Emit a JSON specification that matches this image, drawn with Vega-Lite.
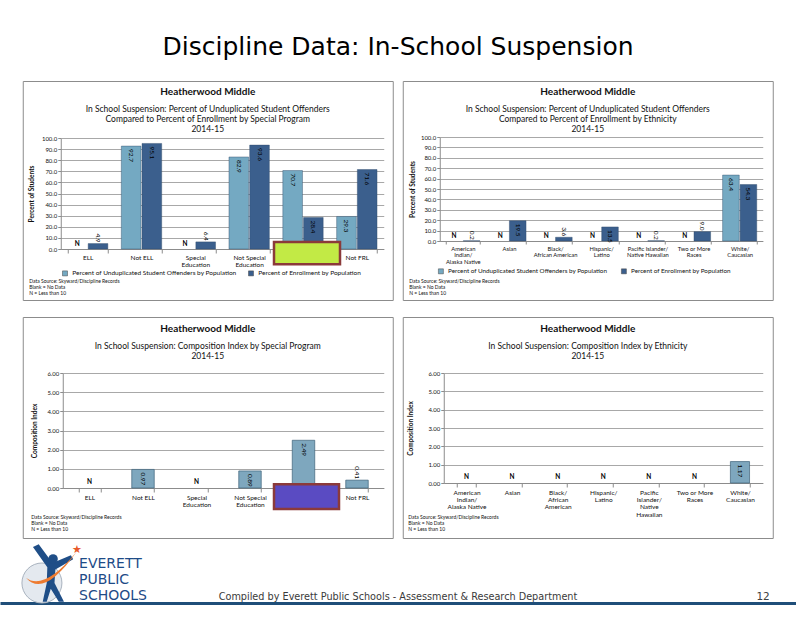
{
  "$schema": "https://vega.github.io/schema/vega-lite/v6.json",
  "background": "white",
  "padding": {"left": 0, "right": 0, "top": 35, "bottom": 8},
  "title": {"text": "Discipline Data: In-School Suspension", "font": "DejaVu Sans", "fontSize": 25, "fontWeight": "normal", "color": "#000000", "anchor": "middle", "frame": "bounds", "offset": 20.5},
  "config": {
    "font": "Lato",
    "view": {"stroke": "#8C8C8C", "strokeWidth": 1},
    "axis": {"labelFont": "Lato", "titleFont": "Lato", "labelColor": "#111111", "titleColor": "#111111", "domainColor": "#8C8C8C", "tickColor": "#8C8C8C", "gridColor": "#A8A8A8", "gridWidth": 1, "labelFontSize": 6, "labelOverlap": false},
    "legend": {"labelFont": "Lato", "labelColor": "#111111"},
    "title": {"font": "Lato", "fontSize": 10, "fontWeight": "bold", "color": "#111111", "subtitleFont": "Lato", "subtitleFontSize": 8.5, "subtitleColor": "#111111", "subtitleLineHeight": 10.3, "subtitlePadding": 8, "frame": "group", "anchor": "middle"}
  },
  "datasets": {
    "p1": [
      {"cat": "ELL", "series": "Percent of Unduplicated Student Offenders by Population", "value": null},
      {"cat": "ELL", "series": "Percent of Enrollment by Population", "value": 4.9},
      {"cat": "Not ELL", "series": "Percent of Unduplicated Student Offenders by Population", "value": 92.7},
      {"cat": "Not ELL", "series": "Percent of Enrollment by Population", "value": 95.1},
      {"cat": "Special Education", "series": "Percent of Unduplicated Student Offenders by Population", "value": null},
      {"cat": "Special Education", "series": "Percent of Enrollment by Population", "value": 6.4},
      {"cat": "Not Special Education", "series": "Percent of Unduplicated Student Offenders by Population", "value": 82.9},
      {"cat": "Not Special Education", "series": "Percent of Enrollment by Population", "value": 93.6},
      {"cat": "FRL", "series": "Percent of Unduplicated Student Offenders by Population", "value": 70.7},
      {"cat": "FRL", "series": "Percent of Enrollment by Population", "value": 28.4},
      {"cat": "Not FRL", "series": "Percent of Unduplicated Student Offenders by Population", "value": 29.3},
      {"cat": "Not FRL", "series": "Percent of Enrollment by Population", "value": 71.6}
    ],
    "p2": [
      {"cat": "American Indian/Alaska Native", "series": "Percent of Unduplicated Student Offenders by Population", "value": null},
      {"cat": "American Indian/Alaska Native", "series": "Percent of Enrollment by Population", "value": 0.2},
      {"cat": "Asian", "series": "Percent of Unduplicated Student Offenders by Population", "value": null},
      {"cat": "Asian", "series": "Percent of Enrollment by Population", "value": 19.5},
      {"cat": "Black/African American", "series": "Percent of Unduplicated Student Offenders by Population", "value": null},
      {"cat": "Black/African American", "series": "Percent of Enrollment by Population", "value": 3.6},
      {"cat": "Hispanic/Latino", "series": "Percent of Unduplicated Student Offenders by Population", "value": null},
      {"cat": "Hispanic/Latino", "series": "Percent of Enrollment by Population", "value": 13.5},
      {"cat": "Pacific Islander/Native Hawaiian", "series": "Percent of Unduplicated Student Offenders by Population", "value": null},
      {"cat": "Pacific Islander/Native Hawaiian", "series": "Percent of Enrollment by Population", "value": 0.2},
      {"cat": "Two or More Races", "series": "Percent of Unduplicated Student Offenders by Population", "value": null},
      {"cat": "Two or More Races", "series": "Percent of Enrollment by Population", "value": 9.0},
      {"cat": "White/Caucasian", "series": "Percent of Unduplicated Student Offenders by Population", "value": 63.4},
      {"cat": "White/Caucasian", "series": "Percent of Enrollment by Population", "value": 54.3}
    ],
    "p3": [
      {"cat": "ELL", "value": null},
      {"cat": "Not ELL", "value": 0.97},
      {"cat": "Special Education", "value": null},
      {"cat": "Not Special Education", "value": 0.89},
      {"cat": "FRL", "value": 2.49},
      {"cat": "Not FRL", "value": 0.41}
    ],
    "p4": [
      {"cat": "American Indian/Alaska Native", "value": null},
      {"cat": "Asian", "value": null},
      {"cat": "Black/African American", "value": null},
      {"cat": "Hispanic/Latino", "value": null},
      {"cat": "Pacific Islander/Native Hawaiian", "value": null},
      {"cat": "Two or More Races", "value": null},
      {"cat": "White/Caucasian", "value": 1.17}
    ],
    "footer": [
      {"part": "logo", "line": "1", "text": ["EVERETT", "PUBLIC", "SCHOOLS"]},
      {"part": "credit", "line": "3", "text": "Compiled by Everett Public Schools - Assessment & Research Department"},
      {"part": "page", "line": "3", "text": "12"}
    ]
  },
  "center": true,
  "spacing": 4,
  "vconcat": [
    {
      "columns": 2,
      "bounds": "flush",
      "spacing": {"row": 17, "column": 10},
      "resolve": {"scale": {"color": "independent", "x": "independent", "y": "independent", "xOffset": "independent"}, "legend": {"color": "independent"}},
      "concat": [
        {
          "width": 370, "height": 219,
          "data": {"name": "p1"},
          "title": {"text": "Heatherwood Middle", "subtitle": ["In School Suspension: Percent of Unduplicated Student Offenders", "Compared to Percent of Enrollment by Special Program", "2014-15"], "offset": -53},
          "layer": [
            {
              "mark": {"type": "bar", "stroke": "#2F4B6A", "strokeWidth": 0.6, "strokeOpacity": 0.7},
              "encoding": {
                "x": {"field": "cat", "type": "nominal", "scale": {"domain": ["ELL", "Not ELL", "Special Education", "Not Special Education", "FRL", "Not FRL"], "range": [38, 361], "paddingInner": 0.25, "paddingOuter": 0.125},
                  "axis": {"offset": -51, "labelAngle": 0, "labelFontSize": 6.5, "labelPadding": 1, "tickSize": 4, "tickBand": "extent", "labelLineHeight": 7.4, "labelBaseline": "top",
                    "labelExpr": "datum.label == 'Special Education' ? ['Special','Education'] : datum.label == 'Not Special Education' ? ['Not Special','Education'] : datum.label",
                    "title": ["Data Source: Skyward/Discipline Records", "Blank = No Data", "N = Less than 10"], "titleFontSize": 5, "titleFontWeight": "normal", "titleAlign": "left", "titleAnchor": "start", "titleBaseline": "top", "titleX": 6, "titleY": 29, "titleLineHeight": 6}},
                "y": {"field": "value", "type": "quantitative", "scale": {"domain": [0, 100], "range": [168, 57], "nice": false},
                  "axis": {"offset": -38, "values": [0, 10, 20, 30, 40, 50, 60, 70, 80, 90, 100], "tickCount": 11, "labelOverlap": false, "format": ".1f", "tickSize": 3, "labelPadding": 1, "title": "Percent of Students", "titleFontSize": 6.5, "titleFontWeight": "bold", "titlePadding": 7}},
                "xOffset": {"field": "series", "scale": {"domain": ["Percent of Unduplicated Student Offenders by Population", "Percent of Enrollment by Population"], "paddingInner": 0.05}},
                "color": {"field": "series", "type": "nominal", "scale": {"domain": ["Percent of Unduplicated Student Offenders by Population", "Percent of Enrollment by Population"], "range": ["#74A9C2", "#3B5F8D"]},
                  "legend": {"orient": "none", "legendX": 39, "legendY": 189, "direction": "horizontal", "title": null, "symbolType": "square", "symbolSize": 25, "symbolStrokeColor": "#444444", "symbolStrokeWidth": 0.5, "labelFontSize": 6.5, "labelLimit": 400, "columnPadding": 10, "padding": 0}}
              }
            },
            {
              "transform": [{"filter": "datum.value != null && datum.value >= 10"}],
              "mark": {"type": "text", "angle": 90, "align": "left", "baseline": "middle", "dx": 3, "fontSize": 6.5, "color": "#000000"},
              "encoding": {"x": {"field": "cat", "type": "nominal"}, "xOffset": {"field": "series"}, "y": {"field": "value", "type": "quantitative"}, "text": {"field": "value", "type": "quantitative", "format": ".1f"}}
            },
            {
              "transform": [{"filter": "datum.value != null && datum.value < 10"}],
              "mark": {"type": "text", "angle": 90, "align": "right", "baseline": "middle", "dx": -1, "fontSize": 6.5, "color": "#000000"},
              "encoding": {"x": {"field": "cat", "type": "nominal"}, "xOffset": {"field": "series"}, "y": {"field": "value", "type": "quantitative"}, "text": {"field": "value", "type": "quantitative", "format": ".1f"}}
            },
            {
              "transform": [{"filter": "datum.value == null"}],
              "mark": {"type": "text", "baseline": "bottom", "dy": -2, "fontSize": 6.5, "fontWeight": "bold", "color": "#000000"},
              "encoding": {"x": {"field": "cat", "type": "nominal"}, "xOffset": {"field": "series"}, "y": {"datum": 0}, "text": {"value": "N"}}
            },
            {
              "data": {"values": [{"cat": "FRL", "lo": -13.8, "hi": 6.3}]},
              "mark": {"type": "bar", "width": 66, "xOffset": 4, "fill": "#C2EA45", "stroke": "#8B3A3A", "strokeWidth": 2.5},
              "encoding": {"x": {"field": "cat", "type": "nominal"}, "y": {"field": "lo", "type": "quantitative"}, "y2": {"field": "hi"}}
            }
          ]
        },
        {
          "width": 370, "height": 219,
          "data": {"name": "p2"},
          "title": {"text": "Heatherwood Middle", "subtitle": ["In School Suspension: Percent of Unduplicated Student Offenders", "Compared to Percent of Enrollment by Ethnicity", "2014-15"], "offset": -53},
          "layer": [
            {
              "mark": {"type": "bar", "stroke": "#2F4B6A", "strokeWidth": 0.6, "strokeOpacity": 0.7},
              "encoding": {
                "x": {"field": "cat", "type": "nominal", "scale": {"domain": ["American Indian/Alaska Native", "Asian", "Black/African American", "Hispanic/Latino", "Pacific Islander/Native Hawaiian", "Two or More Races", "White/Caucasian"], "range": [37, 360], "paddingInner": 0.26, "paddingOuter": 0.13},
                  "axis": {"offset": -59, "labelAngle": 0, "labelFontSize": 5.8, "labelPadding": 1, "tickSize": 3, "tickBand": "extent", "labelLineHeight": 6.8, "labelBaseline": "top",
                    "labelExpr": "datum.label == 'American Indian/Alaska Native' ? ['American','Indian/','Alaska Native'] : datum.label == 'Black/African American' ? ['Black/','African American'] : datum.label == 'Hispanic/Latino' ? ['Hispanic/','Latino'] : datum.label == 'Pacific Islander/Native Hawaiian' ? ['Pacific Islander/','Native Hawaiian'] : datum.label == 'Two or More Races' ? ['Two or More','Races'] : datum.label == 'White/Caucasian' ? ['White/','Caucasian'] : datum.label",
                    "title": ["Data Source: Skyward/Discipline Records", "Blank = No Data", "N = Less than 10"], "titleFontSize": 5, "titleFontWeight": "normal", "titleAlign": "left", "titleAnchor": "start", "titleBaseline": "top", "titleX": 6, "titleY": 37, "titleLineHeight": 6}},
                "y": {"field": "value", "type": "quantitative", "scale": {"domain": [0, 100], "range": [160, 56], "nice": false},
                  "axis": {"offset": -37, "values": [0, 10, 20, 30, 40, 50, 60, 70, 80, 90, 100], "tickCount": 11, "labelOverlap": false, "format": ".1f", "tickSize": 3, "labelPadding": 1, "title": "Percent of Students", "titleFontSize": 6.5, "titleFontWeight": "bold", "titlePadding": 5}},
                "xOffset": {"field": "series", "scale": {"domain": ["Percent of Unduplicated Student Offenders by Population", "Percent of Enrollment by Population"], "paddingInner": 0.05}},
                "color": {"field": "series", "type": "nominal", "scale": {"domain": ["Percent of Unduplicated Student Offenders by Population", "Percent of Enrollment by Population"], "range": ["#74A9C2", "#3B5F8D"]},
                  "legend": {"orient": "none", "legendX": 35, "legendY": 187, "direction": "horizontal", "title": null, "symbolType": "square", "symbolSize": 25, "symbolStrokeColor": "#444444", "symbolStrokeWidth": 0.5, "labelFontSize": 6.3, "labelLimit": 400, "columnPadding": 12, "padding": 0}}
              }
            },
            {
              "transform": [{"filter": "datum.value != null && datum.value >= 10"}],
              "mark": {"type": "text", "angle": 90, "align": "left", "baseline": "middle", "dx": 3, "fontSize": 6.5, "color": "#000000"},
              "encoding": {"x": {"field": "cat", "type": "nominal"}, "xOffset": {"field": "series"}, "y": {"field": "value", "type": "quantitative"}, "text": {"field": "value", "type": "quantitative", "format": ".1f"}}
            },
            {
              "transform": [{"filter": "datum.value != null && datum.value < 10"}],
              "mark": {"type": "text", "angle": 90, "align": "right", "baseline": "middle", "dx": -1, "fontSize": 6.5, "color": "#000000"},
              "encoding": {"x": {"field": "cat", "type": "nominal"}, "xOffset": {"field": "series"}, "y": {"field": "value", "type": "quantitative"}, "text": {"field": "value", "type": "quantitative", "format": ".1f"}}
            },
            {
              "transform": [{"filter": "datum.value == null"}],
              "mark": {"type": "text", "baseline": "bottom", "dy": -2, "fontSize": 6.5, "fontWeight": "bold", "color": "#000000"},
              "encoding": {"x": {"field": "cat", "type": "nominal"}, "xOffset": {"field": "series"}, "y": {"datum": 0}, "text": {"value": "N"}}
            }
          ]
        },
        {
          "width": 370, "height": 221,
          "data": {"name": "p3"},
          "title": {"text": "Heatherwood Middle", "subtitle": ["In School Suspension: Composition Index by Special Program", "2014-15"], "offset": -44},
          "layer": [
            {
              "mark": {"type": "bar", "color": "#7EA7BE", "stroke": "#3E6178", "strokeWidth": 0.7},
              "encoding": {
                "x": {"field": "cat", "type": "nominal", "scale": {"domain": ["ELL", "Not ELL", "Special Education", "Not Special Education", "FRL", "Not FRL"], "range": [40, 361], "paddingInner": 0.58, "paddingOuter": 0.29},
                  "axis": {"offset": -50, "labelAngle": 0, "labelFontSize": 6.5, "labelPadding": 2, "tickSize": 4, "tickBand": "extent", "labelLineHeight": 7.6, "labelBaseline": "top",
                    "labelExpr": "datum.label == 'Special Education' ? ['Special','Education'] : datum.label == 'Not Special Education' ? ['Not Special','Education'] : datum.label",
                    "title": ["Data Source: Skyward/Discipline Records", "Blank = No Data", "N = Less than 10"], "titleFontSize": 5, "titleFontWeight": "normal", "titleAlign": "left", "titleAnchor": "start", "titleBaseline": "top", "titleX": 8, "titleY": 26, "titleLineHeight": 6}},
                "y": {"field": "value", "type": "quantitative", "scale": {"domain": [0, 6], "range": [171, 56], "nice": false},
                  "axis": {"offset": -40, "values": [0, 1, 2, 3, 4, 5, 6], "tickCount": 7, "labelOverlap": false, "format": ".2f", "tickSize": 3, "labelPadding": 1, "title": "Composition Index", "titleFontSize": 6.5, "titleFontWeight": "bold", "titlePadding": 9}}
              }
            },
            {
              "transform": [{"filter": "datum.value != null && datum.value >= 0.6"}],
              "mark": {"type": "text", "angle": 90, "align": "left", "baseline": "middle", "dx": 3, "fontSize": 6.5, "color": "#000000"},
              "encoding": {"x": {"field": "cat", "type": "nominal"}, "y": {"field": "value", "type": "quantitative"}, "text": {"field": "value", "type": "quantitative", "format": ".2f"}}
            },
            {
              "transform": [{"filter": "datum.value != null && datum.value < 0.6"}],
              "mark": {"type": "text", "angle": 90, "align": "right", "baseline": "middle", "dx": -1, "fontSize": 6.5, "color": "#000000"},
              "encoding": {"x": {"field": "cat", "type": "nominal"}, "y": {"field": "value", "type": "quantitative"}, "text": {"field": "value", "type": "quantitative", "format": ".2f"}}
            },
            {
              "transform": [{"filter": "datum.value == null"}],
              "mark": {"type": "text", "baseline": "bottom", "dy": -3, "fontSize": 6.5, "fontWeight": "bold", "color": "#000000"},
              "encoding": {"x": {"field": "cat", "type": "nominal"}, "y": {"datum": 0}, "text": {"value": "N"}}
            },
            {
              "data": {"values": [{"cat": "FRL", "lo": -1.09, "hi": 0.2}]},
              "mark": {"type": "bar", "width": 65, "xOffset": 3, "fill": "#5A4BC2", "stroke": "#8B3A3A", "strokeWidth": 2.5},
              "encoding": {"x": {"field": "cat", "type": "nominal"}, "y": {"field": "lo", "type": "quantitative"}, "y2": {"field": "hi"}}
            }
          ]
        },
        {
          "width": 370, "height": 221,
          "data": {"name": "p4"},
          "title": {"text": "Heatherwood Middle", "subtitle": ["In School Suspension: Composition Index by Ethnicity", "2014-15"], "offset": -44},
          "layer": [
            {
              "mark": {"type": "bar", "color": "#7EA7BE", "stroke": "#3E6178", "strokeWidth": 0.7},
              "encoding": {
                "x": {"field": "cat", "type": "nominal", "scale": {"domain": ["American Indian/Alaska Native", "Asian", "Black/African American", "Hispanic/Latino", "Pacific Islander/Native Hawaiian", "Two or More Races", "White/Caucasian"], "range": [41, 360], "paddingInner": 0.58, "paddingOuter": 0.29},
                  "axis": {"offset": -55, "labelAngle": 0, "labelFontSize": 6.5, "labelPadding": 2, "tickSize": 4, "tickBand": "extent", "labelLineHeight": 7.4, "labelBaseline": "top",
                    "labelExpr": "datum.label == 'American Indian/Alaska Native' ? ['American','Indian/','Alaska Native'] : datum.label == 'Black/African American' ? ['Black/','African','American'] : datum.label == 'Hispanic/Latino' ? ['Hispanic/','Latino'] : datum.label == 'Pacific Islander/Native Hawaiian' ? ['Pacific','Islander/','Native','Hawaiian'] : datum.label == 'Two or More Races' ? ['Two or More','Races'] : datum.label == 'White/Caucasian' ? ['White/','Caucasian'] : datum.label",
                    "title": ["Data Source: Skyward/Discipline Records", "Blank = No Data", "N = Less than 10"], "titleFontSize": 5, "titleFontWeight": "normal", "titleAlign": "left", "titleAnchor": "start", "titleBaseline": "top", "titleX": 5, "titleY": 31, "titleLineHeight": 6}},
                "y": {"field": "value", "type": "quantitative", "scale": {"domain": [0, 6], "range": [166, 56], "nice": false},
                  "axis": {"offset": -41, "values": [0, 1, 2, 3, 4, 5, 6], "tickCount": 7, "labelOverlap": false, "format": ".2f", "tickSize": 3, "labelPadding": 1, "title": "Composition Index", "titleFontSize": 6.5, "titleFontWeight": "bold", "titlePadding": 14}}
              }
            },
            {
              "transform": [{"filter": "datum.value != null && datum.value >= 0.6"}],
              "mark": {"type": "text", "angle": 90, "align": "left", "baseline": "middle", "dx": 3, "fontSize": 6.5, "color": "#000000"},
              "encoding": {"x": {"field": "cat", "type": "nominal"}, "y": {"field": "value", "type": "quantitative"}, "text": {"field": "value", "type": "quantitative", "format": ".2f"}}
            },
            {
              "transform": [{"filter": "datum.value == null"}],
              "mark": {"type": "text", "baseline": "bottom", "dy": -3, "fontSize": 6.5, "fontWeight": "bold", "color": "#000000"},
              "encoding": {"x": {"field": "cat", "type": "nominal"}, "y": {"datum": 0}, "text": {"value": "N"}}
            }
          ]
        }
      ]
    },
    {
      "width": 796, "height": 59,
      "view": {"stroke": null},
      "layer": [
        {
          "data": {"name": "footer"},
          "transform": [{"filter": "datum.part == 'logo'"}],
          "mark": {"type": "text", "align": "left", "baseline": "alphabetic", "font": "DejaVu Sans", "fontSize": 14, "lineHeight": 16.2, "color": "#1E4B87"},
          "encoding": {
            "x": {"field": "part", "type": "nominal", "bandPosition": 0.298, "scale": {"type": "band", "domain": ["logo", "credit", "page"], "paddingInner": 0, "paddingOuter": 0},
              "axis": {"orient": "bottom", "labels": false, "ticks": false, "title": null, "grid": false, "domain": true, "domainColor": "#1F4E79", "domainWidth": 3}},
            "y": {"field": "line", "type": "ordinal", "scale": {"type": "point", "domain": ["1", "2", "3"], "padding": 0.84, "align": 0.89}, "axis": null},
            "text": {"field": "text"}
          }
        },
        {
          "data": {"values": [{"part": "logo", "line": "2"}]},
          "mark": {"type": "point", "shape": "circle", "size": 1600, "filled": true, "fill": "#E4E9EF", "stroke": "#A9B3BF", "strokeWidth": 1, "opacity": 1, "yOffset": -1},
          "encoding": {"x": {"field": "part", "type": "nominal", "bandPosition": 0.158}, "y": {"field": "line", "type": "ordinal"}}
        },
        {
          "data": {"values": [{"part": "logo", "line": "1"}]},
          "mark": {"type": "point", "shape": "M -0.7 -0.9 L -0.5 -1 L -0.02 -0.35 L 0.62 -0.62 L 0.7 -0.48 L 0.08 -0.12 L 0.05 0.35 L 0.38 1 L 0.2 1 L -0.08 0.55 L -0.22 1 L -0.36 1 L -0.22 0.35 L -0.2 -0.2 Z", "size": 3300, "filled": true, "fill": "#1F4E87", "opacity": 1, "yOffset": 5},
          "encoding": {"x": {"field": "part", "type": "nominal", "bandPosition": 0.2}, "y": {"field": "line", "type": "ordinal"}}
        },
        {
          "data": {"values": [{"part": "logo", "line": "1"}]},
          "mark": {"type": "point", "shape": "M -0.95 0.25 Q -0.3 1.0 0.9 -0.7 Q -0.3 0.75 -0.95 0.25 Z", "size": 3000, "filled": true, "fill": "#EE7B30", "opacity": 1, "yOffset": 3},
          "encoding": {"x": {"field": "part", "type": "nominal", "bandPosition": 0.196}, "y": {"field": "line", "type": "ordinal"}}
        },
        {
          "data": {"values": [{"part": "logo", "line": "1"}]},
          "mark": {"type": "point", "shape": "circle", "size": 90, "filled": true, "fill": "#1F4E87", "opacity": 1, "yOffset": -9},
          "encoding": {"x": {"field": "part", "type": "nominal", "bandPosition": 0.2}, "y": {"field": "line", "type": "ordinal"}}
        },
        {
          "data": {"values": [{"part": "logo", "line": "1", "text": "★"}]},
          "mark": {"type": "text", "align": "center", "baseline": "middle", "font": "DejaVu Sans", "fontSize": 11, "color": "#E8592A", "dy": -18},
          "encoding": {"x": {"field": "part", "type": "nominal", "bandPosition": 0.29}, "y": {"field": "line", "type": "ordinal"}, "text": {"field": "text"}}
        },
        {
          "data": {"name": "footer"},
          "transform": [{"filter": "datum.part == 'credit'"}],
          "mark": {"type": "text", "align": "center", "baseline": "alphabetic", "font": "DejaVu Sans", "fontSize": 9.7, "color": "#3A3A3A"},
          "encoding": {
            "x": {"field": "part", "type": "nominal", "bandPosition": 0.5},
            "y": {"field": "line", "type": "ordinal"},
            "text": {"field": "text"}
          }
        },
        {
          "data": {"name": "footer"},
          "transform": [{"filter": "datum.part == 'page'"}],
          "mark": {"type": "text", "align": "center", "baseline": "alphabetic", "font": "DejaVu Sans", "fontSize": 10.5, "color": "#404040"},
          "encoding": {
            "x": {"field": "part", "type": "nominal", "bandPosition": 0.876},
            "y": {"field": "line", "type": "ordinal"},
            "text": {"field": "text"}
          }
        }
      ]
    }
  ]
}
